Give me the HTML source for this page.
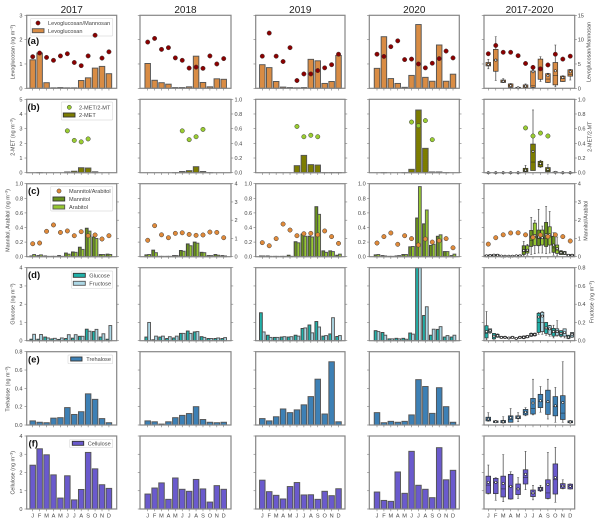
<!DOCTYPE html>
<html lang="en">
<head>
<meta charset="utf-8">
<title>Monthly saccharide concentrations 2017-2020</title>
<style>
html,body{margin:0;padding:0;background:#fff;}
svg{display:block;font-family:"Liberation Sans",Arial,sans-serif;filter:blur(.3px);}
.t{fill:#444;font-size:5.6px;}
.yl{fill:#444;font-size:5.4px;text-anchor:middle;}
.title{fill:#222;font-size:10px;text-anchor:middle;}
.letter{fill:#111;font-size:9.5px;font-weight:bold;}
.lg{fill:#fff;stroke:#ddd;stroke-width:.7;}
</style>
</head>
<body>
<svg id="chart" xmlns="http://www.w3.org/2000/svg" width="600" height="522" viewBox="0 0 600 522">
<defs>
<pattern id="hatch-dark" width="2" height="2" patternUnits="userSpaceOnUse"><rect width="2" height="2" fill="#6f9a1e"/><circle cx="1" cy="1" r=".35" fill="#2c3d08"/></pattern>
<pattern id="hatch-light" width="2" height="2" patternUnits="userSpaceOnUse"><rect width="2" height="2" fill="#9acd32"/><circle cx="1" cy="1" r=".3" fill="#4d6b10"/></pattern>
<pattern id="hatch-olive" width="2" height="2" patternUnits="userSpaceOnUse"><rect width="2" height="2" fill="#808000"/><circle cx="1" cy="1" r=".3" fill="#3c3c00"/></pattern>
</defs>

<g>
<rect class="lg" x="30.7" y="18.3" width="82" height="17.7" rx="1"/>
<circle cx="38" cy="23" r="2.1" fill="#8b0000" stroke="#333" stroke-width=".5"/>
<text class="t" x="48" y="25">Levoglucosan/Mannosan</text>
<rect x="32.3" y="28.7" width="11.7" height="4" fill="#d98c44" stroke="#555" stroke-width=".9"/>
<text class="t" x="48" y="32.8">Levoglucosan</text>
</g>
<g>
<rect class="lg" x="61.3" y="102" width="51.4" height="18" rx="1"/>
<circle cx="69.3" cy="107.3" r="2.1" fill="#9acd32" stroke="#333" stroke-width=".5"/>
<text class="t" x="79" y="109.3">2-MET/2-MT</text>
<rect x="63.3" y="113" width="11.7" height="4" fill="url(#hatch-olive)" stroke="#333" stroke-width=".9"/>
<text class="t" x="79" y="117">2-MET</text>
</g>
<g>
<rect class="lg" x="50.7" y="186.3" width="62" height="24.7" rx="1"/>
<circle cx="59" cy="191" r="2.1" fill="#e08a3a" stroke="#333" stroke-width=".5"/>
<text class="t" x="69" y="192.8">Mannitol/Arabitol</text>
<rect x="53" y="197" width="11.7" height="4" fill="url(#hatch-dark)" stroke="#333" stroke-width=".9"/>
<text class="t" x="69" y="201">Mannitol</text>
<rect x="53" y="205" width="11.7" height="4" fill="url(#hatch-light)" stroke="#555" stroke-width=".9"/>
<text class="t" x="69" y="209">Arabitol</text>
</g>
<g>
<rect class="lg" x="71.3" y="271" width="41.4" height="17.3" rx="1"/>
<rect x="73.3" y="273.3" width="12" height="4" fill="#20b2aa" stroke="#333" stroke-width=".9"/>
<text class="t" x="89.3" y="277.4">Glucose</text>
<rect x="73.3" y="281.3" width="12" height="4" fill="#add8e6" stroke="#555" stroke-width=".9"/>
<text class="t" x="89.3" y="285.4">Fructose</text>
</g>
<g>
<rect class="lg" x="68" y="355" width="44.7" height="8.7" rx="1"/>
<rect x="70.7" y="357" width="11.3" height="4" fill="#3d80b5" stroke="#333" stroke-width=".9"/>
<text class="t" x="86.3" y="361">Trehalose</text>
</g>
<g>
<rect class="lg" x="69.7" y="439.3" width="43" height="8.4" rx="1"/>
<rect x="72.3" y="441.3" width="11.4" height="4" fill="#6a5acd" stroke="#333" stroke-width=".9"/>
<text class="t" x="87.7" y="445.4">Cellulose</text>
</g>

<g id="marks"></g>

<text class="title" x="71.7" y="13">2017</text>
<text class="title" x="185.5" y="13">2018</text>
<text class="title" x="300.3" y="13">2019</text>
<text class="title" x="414.3" y="13">2020</text>
<text class="title" x="529.5" y="13">2017-2020</text>

<text class="yl" transform="translate(14.5 52) rotate(-90)">Levoglucosan (ng m<tspan dy="-1.8" font-size="3.8">−3</tspan><tspan dy="1.8">)</tspan></text>
<text class="yl" transform="translate(14.5 137) rotate(-90)">2-MET (ng m<tspan dy="-1.8" font-size="3.8">−3</tspan><tspan dy="1.8">)</tspan></text>
<text class="yl" transform="translate(9.5 220.5) rotate(-90)">Mannitol, Arabitol (ng m<tspan dy="-1.8" font-size="3.8">−3</tspan><tspan dy="1.8">)</tspan></text>
<text class="yl" transform="translate(14.5 304) rotate(-90)">Glucose (ng m<tspan dy="-1.8" font-size="3.8">−3</tspan><tspan dy="1.8">)</tspan></text>
<text class="yl" transform="translate(9.5 389) rotate(-90)">Trehalose (ng m<tspan dy="-1.8" font-size="3.8">−3</tspan><tspan dy="1.8">)</tspan></text>
<text class="yl" transform="translate(14.5 472.7) rotate(-90)">Cellulose (ng m<tspan dy="-1.8" font-size="3.8">−3</tspan><tspan dy="1.8">)</tspan></text>

<text class="yl" transform="translate(590.5 52) rotate(-90)">Levoglucosan/Mannosan</text>
<text class="yl" transform="translate(591.5 136.7) rotate(-90)">2-MET/2-MT</text>
<text class="yl" transform="translate(587.5 220.7) rotate(-90)">Mannitol/Arabitol</text>
<text class="yl" transform="translate(593.5 302) rotate(-90)">Fructose (ng m<tspan dy="-1.8" font-size="3.8">−3</tspan><tspan dy="1.8">)</tspan></text>

<text class="letter" x="27.5" y="44">(a)</text>
<text class="letter" x="27.5" y="110">(b)</text>
<text class="letter" x="28" y="194">(c)</text>
<text class="letter" x="28" y="278">(d)</text>
<text class="letter" x="28" y="362.5">(e)</text>
<text class="letter" x="28.5" y="446.5">(f)</text>
</svg>

<script>
const months = ['J','F','M','A','M','J','J','A','S','O','N','D'];

const levoglucosan = [
  [1.17,1.45,.23,.02,.03,.02,.02,.32,.43,.83,.9,.6],
  [1.02,.33,.23,.17,.03,.03,.06,1.32,.24,.06,.39,.37],
  [.97,.85,.28,.05,.03,.02,.03,1.19,1.13,.2,.28,1.35],
  [.82,2.12,.4,.2,.04,.53,2.62,.45,.29,1.78,.29,.58]
];
const levoRatio = [
  [6.5,7.25,6.35,5.75,6.65,7.1,5.3,4.65,6.65,10.9,6.2,7.5],
  [9.5,10.25,8,8.35,6.25,5.75,4.15,4.35,4.1,6.65,5,6.1],
  [6.6,11.35,6.6,5.5,8.35,1.6,2.95,2.95,3.65,4.2,4.85,7],
  [7,6.55,8.55,9.75,5.9,6,5,4.2,5.15,6.1,7.65,6.25]
];
const levoRatioAll = [7.1,8.8,7.4,7.4,6.7,5.1,4.3,4,4.8,7,6,6.6];
// each box: low whisker, q1, median, q3, high whisker, mean
const levoBox = [
  [4,4.6,4.9,5.3,5.96,4.9],[1.6,3.5,5.8,8,10.6,5.8],[1.2,1.2,1.4,1.7,2,1.45],[.1,.2,.5,.9,1,.55],
  [0,.02,.08,.2,.25,.12],[0,.1,.3,.7,.9,.45],[.1,.2,.5,3.56,3.8,3.4],[1.4,1.85,3.9,6,6.5,3.9],
  [1.2,1.2,1.9,3,3.1,2.6],[.3,.7,2.6,5.3,8.9,3.6],[1.4,1.4,2,2.5,2.6,2.2],[1.7,2.5,2.9,3.8,3.9,3.4]
];

const metBars = [
  [0,.01,0,0,0,.05,.1,.34,.32,.06,0,0],
  [0,0,0,0,.01,.08,.14,.41,.08,.01,0,0],
  [0,0,0,0,0,.48,1.18,.55,.52,.01,.01,.01],
  [0,.01,0,0,.01,.23,4.27,1.66,.05,.05,.01,0]
];
const metRatio = [
  [null,null,null,null,null,.57,.44,.42,.46,null,null,null],
  [null,null,null,null,null,.57,.45,.49,.59,null,null,null],
  [null,null,null,null,null,.63,.49,.51,.49,null,null,null],
  [null,null,null,null,null,.69,.64,.71,.45,null,null,null]
];
const metRatioAll = [null,null,null,null,null,.61,.5,.54,.5,null,null,null];
const metBox = [
  [0,0,0,0,0,0],[0,0,0,0,0,0],[0,0,0,0,0,0],[0,0,0,0,0,0],[0,0,0,0,0,0],
  [.01,.015,.03,.06,.1,.035],[.04,.03,.145,.39,.855,.29],[.07,.08,.11,.155,.17,.125],
  [0,.015,.03,.07,.11,.045],[0,0,.005,.01,.015,.005],[0,0,0,0,0,0],[0,0,0,0,0,0]
];

const mannitol = [
  [.01,.015,.01,.005,.015,.05,.065,.13,.39,.27,.03,.035],
  [.025,.09,.005,.005,.015,.085,.175,.2,.06,.015,.03,.015],
  [.01,.01,.005,.005,.02,.205,.31,.28,.685,.08,.08,.02],
  [.025,.015,.005,.01,.03,.135,.53,.45,.155,.28,.07,.015]
];
const arabitol = [
  [.03,.025,.005,.005,.005,.035,.06,.1,.35,.25,.03,.03],
  [.03,.055,.005,.005,.015,.075,.15,.185,.055,.015,.02,.01],
  [.01,.005,.005,.005,.005,.19,.28,.27,.58,.06,.07,.035],
  [.03,.01,.005,.015,.03,.14,.96,.64,.17,.3,.07,.035]
];
const mannArabRatio = [
  [.71,.75,1.39,1.74,1.33,1.41,1.15,1.37,1.15,1.19,.97,1.15],
  [.9,1.7,1.2,1.04,1.28,1.31,1.22,1.17,1.19,1.35,1.33,1.04],
  [.77,.6,.99,1.79,1.46,1.15,1.26,1.28,1.2,1.41,1.1,.73],
  [.75,1.1,1.3,.68,1.15,.99,.64,.97,.8,.88,.99,.49]
];
const mannArabRatioAll = [.69,1.04,1.2,1.3,1.31,1.2,1.06,1.19,1.1,1.2,1.1,.86];
const mannitolBox = [
  [.005,.005,.01,.02,.025,.012],[.01,.01,.02,.03,.035,.022],[.005,.005,.01,.012,.015,.01],[.005,.005,.008,.01,.012,.008],
  [.005,.005,.01,.015,.02,.012],[.01,.03,.07,.15,.21,.085],[.03,.14,.22,.36,.54,.27],[.05,.15,.25,.365,.65,.27],
  [.04,.14,.25,.47,.69,.3],[.02,.06,.12,.28,.33,.16],[.03,.03,.05,.08,.085,.055],[.01,.012,.015,.03,.035,.018]
];
const arabitolBox = [
  [.005,.01,.015,.025,.03,.016],[.005,.01,.015,.03,.035,.02],[.005,.005,.008,.012,.015,.008],[.005,.005,.008,.012,.015,.008],
  [.005,.005,.01,.02,.025,.012],[.02,.05,.07,.15,.17,.09],[.04,.155,.26,.46,.5,.29],[.05,.16,.25,.365,.42,.26],
  [.05,.16,.27,.41,.62,.3],[.01,.045,.09,.16,.27,.11],[.03,.03,.05,.07,.075,.05],[.01,.012,.02,.03,.035,.02]
];

const glucose = [
  [.08,.08,.2,.1,.07,.12,.14,.24,.63,.5,.2,.08],
  [.2,.05,.2,.12,.15,.4,.53,.48,.22,.12,.12,.12],
  [1.53,.3,.18,.2,.2,.3,.67,.86,1.05,.25,.37,.23],
  [.55,.45,.1,.13,.13,.42,4.5,1.38,.3,.62,.2,.2]
];
const fructose = [
  [.35,.34,.15,.13,.15,.33,.33,.24,.52,.62,.38,.83],
  [1,.25,.25,.22,.25,.4,.4,.5,.18,.12,.15,.17],
  [.48,.18,.18,.22,.22,.25,.7,.43,.75,.28,1.26,.28],
  [.5,.3,.1,.1,.08,.36,4.5,1.86,.63,.77,.28,.3]
];
const glucoseBox = [
  [.01,.03,.08,.164,.32,.1],[0,.02,.05,.08,.08,.05],[.025,.03,.035,.045,.05,.035],[.02,.025,.03,.035,.04,.03],
  [.015,.02,.025,.03,.035,.025],[.02,.025,.035,.05,.055,.037],[.045,.05,.065,.08,.085,.065],[.07,.09,.2,.3,.31,.26],
  [.06,.08,.13,.2,.2,.14],[.03,.05,.09,.135,.17,.1],[.04,.05,.07,.11,.11,.08],[.02,.025,.04,.06,.06,.04]
];
const fructoseBox = [
  [.08,.09,.11,.13,.13,.11],[.035,.04,.055,.07,.075,.055],[.025,.03,.035,.045,.05,.035],[.025,.03,.035,.045,.05,.035],
  [.025,.03,.035,.045,.05,.035],[.03,.035,.045,.055,.06,.045],[.05,.055,.065,.08,.085,.068],[.07,.1,.2,.31,.32,.27],
  [.05,.07,.12,.165,.17,.13],[.05,.06,.09,.13,.22,.1],[.03,.05,.08,.13,.13,.09],[.035,.04,.065,.09,.09,.07]
];

const trehalose = [
  [.045,.03,.025,.075,.08,.19,.115,.145,.34,.28,.07,.025],
  [.045,.035,.01,.035,.08,.105,.125,.2,.06,.03,.025,.03],
  [.07,.045,.09,.175,.135,.165,.22,.31,.5,.12,.69,.035],
  [.135,.025,.04,.03,.04,.11,.495,.42,.127,.407,.2,.03]
];
const trehaloseBox = [
  [.04,.045,.06,.085,.135,.065],[.025,.027,.035,.045,.05,.035],[.02,.025,.035,.05,.09,.035],[.03,.03,.06,.1,.18,.08],
  [.035,.07,.085,.1,.135,.085],[.1,.11,.14,.17,.19,.14],[.11,.12,.18,.29,.5,.24],[.14,.19,.26,.335,.42,.265],
  [.065,.116,.25,.38,.5,.255],[.03,.1,.2,.31,.41,.21],[.03,.06,.13,.32,.69,.245],[.02,.025,.032,.045,.05,.033]
];

const cellulose = [
  [2.4,3.3,2.97,1.87,.6,1.82,.5,1.07,3.1,2.2,1.33,1.13],
  [.82,1.15,1.43,.53,1.7,1.08,.97,1.62,1.1,.38,1.28,1.08],
  [1.58,.95,.75,.55,1.23,1.45,.77,.78,.53,.97,.73,1.11],
  [.93,.47,.42,2.03,.86,3.16,1.3,1.08,.62,3.36,1.6,2.12]
];
const celluloseBox = [
  [.82,.86,1.31,1.8,2.41,1.46],[.48,.84,1.45,1.68,1.72,1.46],[.4,.66,1.1,1.8,2.98,1.4],[.53,.55,1.24,1.9,2.04,1.24],
  [.58,.79,1.1,1.37,1.72,1.1],[1.06,1.37,1.73,2.15,3.16,1.9],[.5,.68,.85,1.04,1.3,.88],[.95,1,1.1,1.19,1.3,1.1],
  [.55,.58,.88,1.6,3.1,1.35],[.37,.82,1.6,2.47,3.38,1.72],[1.1,1.13,1.25,1.39,1.6,1.26],[1.09,1.1,1.25,1.36,1.38,1.24]
];

const levoTicks = [0,1,2,3];
const levoRightTicks = [0,5,10,15];
const metTicks = [0,1,2,3,4,5];
const unitTicks = ['0.0','0.2','0.4','0.6','0.8','1.0'];
const mannTicks = ['0.0','0.2','0.4','0.6','0.8','1.0'];
const ratioFourTicks = [0,1,2,3,4];
const glucoseTicks = [0,1,2,3,4];
const fructoseTicks = ['0.0','0.2','0.4','0.6','0.8'];
const trehaloseTicks = ['0.0','0.2','0.4','0.6','0.8'];
const celluloseTicks = [0,1,2,3,4];

// ---- layout ----
const SVGNS = 'http://www.w3.org/2000/svg';
const root = document.getElementById('marks');
const cols = [
  {left:26.7, right:116.7, first:32.7, step:6.93},
  {left:140, right:231, first:147.7, step:6.91},
  {left:255.7, right:345, first:262.3, step:6.93},
  {left:369.3, right:459.3, first:377, step:6.91},
  {left:484, right:574.7, first:488.3, step:7.45}
];
const rows = [
  {top:15.3, bottom:88.3},{top:99.3, bottom:172.7},{top:183.7, bottom:256.7},
  {top:267.7, bottom:340.7},{top:351.7, bottom:425},{top:436, bottom:509}
];
const AXIS = '#868686';

function make(tag, parent, attrs) {
  const n = document.createElementNS(SVGNS, tag);
  for (const k in attrs) n.setAttribute(k, attrs[k]);
  parent.appendChild(n);
  return n;
}
function xPos(c, i) { return cols[c].first + cols[c].step * i; }
function yPos(r, v, max) {
  const R = rows[r];
  const y = R.bottom - (v / max) * (R.bottom - R.top);
  return Math.max(R.top, Math.min(R.bottom, y));
}

function drawBar(parent, c, r, i, v, max, fill, stroke, offset, width, series) {
  const y = yPos(r, v, max);
  const rect = make('rect', parent, {x: xPos(c, i) + offset - width / 2, y: y, width: width, height: rows[r].bottom - y, fill: fill, stroke: stroke, 'stroke-width': .95});
  
  
}
function drawDot(parent, c, r, i, v, max, fill, series) {
  if (v === null) return;
  const dot = make('circle', parent, {cx: xPos(c, i), cy: yPos(r, v, max), r: 2.2, fill: fill, stroke: '#3a3a3a', 'stroke-width': .5});
  
  
}
function drawBox(parent, r, i, stats, max, fill, offset, width, series) {
  const g = make('g', parent, {});
  
  
  const x = xPos(4, i) + offset;
  const y = v => yPos(r, v, max);
  make('line', g, {x1: x, x2: x, y1: y(stats[0]), y2: y(stats[4]), stroke: '#666', 'stroke-width': .9});
  make('line', g, {x1: x - 1, x2: x + 1, y1: y(stats[0]), y2: y(stats[0]), stroke: '#444', 'stroke-width': .5});
  make('line', g, {x1: x - 1, x2: x + 1, y1: y(stats[4]), y2: y(stats[4]), stroke: '#444', 'stroke-width': .5});
  make('rect', g, {x: x - width / 2, y: y(stats[3]), width: width, height: Math.max(.3, y(stats[1]) - y(stats[3])), fill: fill, stroke: '#333', 'stroke-width': .7});
  make('line', g, {x1: x - width / 2, x2: x + width / 2, y1: y(stats[2]), y2: y(stats[2]), stroke: '#222', 'stroke-width': .5});
  make('circle', g, {cx: x, cy: y(stats[5]), r: 1.1, fill: '#fff', stroke: '#222', 'stroke-width': .6});
}
function drawPanel(c, r) {
  const R = rows[r], C = cols[c];
  const frame = make('rect', root, {x: C.left, y: R.top, width: C.right - C.left, height: R.bottom - R.top, fill: 'none', stroke: AXIS, 'stroke-width': 1.2});
  
  
  months.forEach((m, i) => {
    const x = xPos(c, i);
    const tick = make('line', root, {x1: x, x2: x, y1: R.bottom, y2: R.bottom + 2.2, stroke: '#777', 'stroke-width': .6});
    
    
    if (r === 5) {
      const label = make('text', root, {x: x, y: 517.5, 'text-anchor': 'middle', class: 't'});
      label.textContent = m;
      
      
    }
  });
}
function drawYTicks(c, r, ticks, max, side, showLabels, labelX) {
  const R = rows[r], C = cols[c];
  ticks.forEach(t => {
    const y = yPos(r, +t, max);
    const x0 = side === 'left' ? C.left : C.right;
    const x1 = side === 'left' ? C.left - 2.2 : C.right + 2.2;
    const tick = make('line', root, {x1: x0, x2: x1, y1: y, y2: y, stroke: '#777', 'stroke-width': .6});
    
    
    if (showLabels) {
      const label = make('text', root, {x: labelX, y: y + 2, 'text-anchor': side === 'left' ? 'end' : 'start', class: 't'});
      label.textContent = String(t);
      
      
    }
  });
}

const colOrange = '#d98c44', colRed = '#8b0000', colYellowGreen = '#9acd32', colDotOrange = '#e08a3a';
const edge = '#555';

// year columns
for (let c = 0; c < 4; c++) {
  const yearGroup = make('g', root, {});
  
  
  months.forEach((m, i) => {
    drawBar(yearGroup, c, 0, i, levoglucosan[c][i], 3, colOrange, edge, 0, 5.5, 'levoglucosan');
    drawBar(yearGroup, c, 1, i, metBars[c][i], 5, 'url(#hatch-olive)', edge, 0, 5.5, 'two-met');
    drawBar(yearGroup, c, 2, i, mannitol[c][i], 1, 'url(#hatch-dark)', '#444', -1.4, 2.8, 'mannitol');
    drawBar(yearGroup, c, 2, i, arabitol[c][i], 1, 'url(#hatch-light)', edge, 1.4, 2.8, 'arabitol');
    drawBar(yearGroup, c, 3, i, glucose[c][i], 4, '#20b2aa', '#444', -1.4, 2.8, 'glucose');
    drawBar(yearGroup, c, 3, i, fructose[c][i], 4, '#add8e6', edge, 1.4, 2.8, 'fructose');
    drawBar(yearGroup, c, 4, i, trehalose[c][i], .8, '#3d80b5', edge, 0, 5.5, 'trehalose');
    drawBar(yearGroup, c, 5, i, cellulose[c][i], 4, '#6a5acd', edge, 0, 5.5, 'cellulose');
  });
  months.forEach((m, i) => {
    drawDot(yearGroup, c, 0, i, levoRatio[c][i], 15, colRed, 'levoglucosan-mannosan');
    drawDot(yearGroup, c, 1, i, metRatio[c][i], 1, colYellowGreen, 'two-met-two-mt');
    drawDot(yearGroup, c, 2, i, mannArabRatio[c][i], 4, colDotOrange, 'mannitol-arabitol');
  });
}

// pooled column
const poolGroup = make('g', root, {});


months.forEach((m, i) => {
  drawBox(poolGroup, 0, i, levoBox[i], 15, colOrange, 0, 4.7, 'levoglucosan');
  drawBox(poolGroup, 1, i, metBox[i], 1, 'url(#hatch-olive)', 0, 4.7, 'two-met');
  drawBox(poolGroup, 2, i, mannitolBox[i], 1, 'url(#hatch-dark)', -1.8, 3.2, 'mannitol');
  drawBox(poolGroup, 2, i, arabitolBox[i], 1, 'url(#hatch-light)', 1.8, 3.2, 'arabitol');
  drawBox(poolGroup, 3, i, glucoseBox[i], .8, '#20b2aa', -1.8, 3.2, 'glucose');
  drawBox(poolGroup, 3, i, fructoseBox[i], .8, '#add8e6', 1.8, 3.2, 'fructose');
  drawBox(poolGroup, 4, i, trehaloseBox[i], .8, '#3d80b5', 0, 4.7, 'trehalose');
  drawBox(poolGroup, 5, i, celluloseBox[i], 4, '#6a5acd', 0, 4.7, 'cellulose');
});
months.forEach((m, i) => {
  drawDot(poolGroup, 4, 0, i, levoRatioAll[i], 15, colRed, 'levoglucosan-mannosan');
  drawDot(poolGroup, 4, 1, i, metRatioAll[i], 1, colYellowGreen, 'two-met-two-mt');
  drawDot(poolGroup, 4, 2, i, mannArabRatioAll[i], 4, colDotOrange, 'mannitol-arabitol');
});

// frames and axes
for (let c = 0; c < 5; c++) for (let r = 0; r < 6; r++) drawPanel(c, r);
for (let c = 0; c < 5; c++) {
  const lab = c === 0;
  drawYTicks(c, 0, levoTicks, 3, 'left', lab, 22.5);
  drawYTicks(c, 1, metTicks, 5, 'left', lab, 22.5);
  drawYTicks(c, 2, mannTicks, 1, 'left', c === 0 || c === 2 || c === 3, cols[c].left - 3.6);
  drawYTicks(c, 3, glucoseTicks, 4, 'left', lab, 22.5);
  drawYTicks(c, 4, trehaloseTicks, .8, 'left', lab, 22.5);
  drawYTicks(c, 5, celluloseTicks, 4, 'left', lab, 22.5);
}
drawYTicks(4, 0, levoRightTicks, 15, 'right', true, 577.7);
drawYTicks(4, 1, unitTicks, 1, 'right', true, 577.7);
drawYTicks(4, 2, ratioFourTicks, 4, 'right', true, 577.7);
drawYTicks(4, 3, fructoseTicks, .8, 'right', true, 577.7);
for (let c = 1; c < 4; c++) drawYTicks(c, 1, unitTicks, 1, 'right', c === 1, 234.5);
for (let c = 0; c < 4; c++) {
  drawYTicks(c, 2, ratioFourTicks, 4, 'right', c === 1, 234.5);
  drawYTicks(c, 3, glucoseTicks, 4, 'right', false, 0);
}
</script>
</body>
</html>
